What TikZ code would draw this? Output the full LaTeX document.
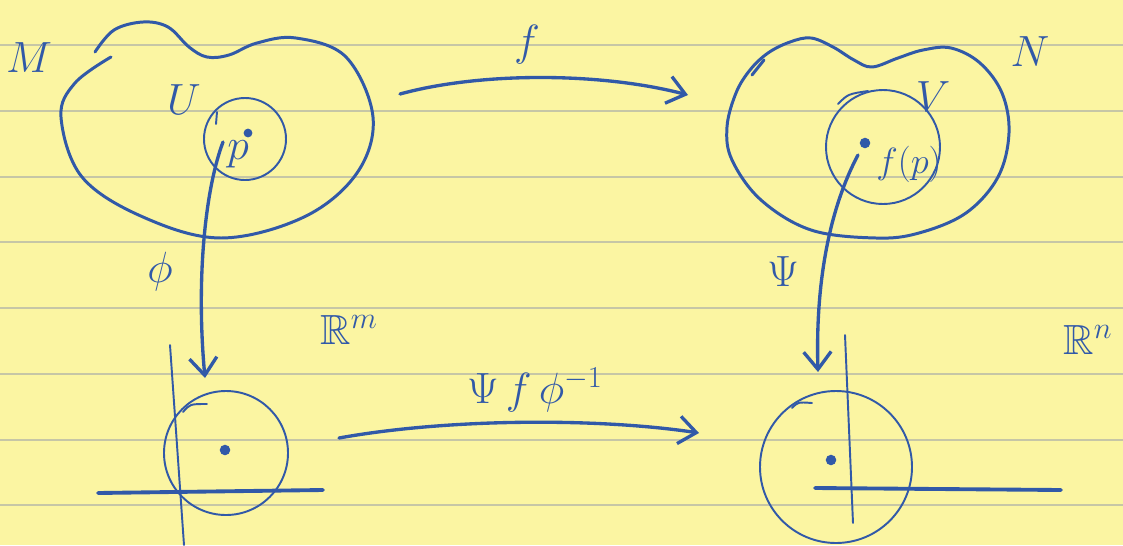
\documentclass[tikz,border=0pt]{standalone}
\usepackage{amssymb}
\usetikzlibrary{arrows.meta}
\definecolor{inkblue}{HTML}{3159A8}
\definecolor{padyellow}{HTML}{FBF5A2}
\definecolor{padrule}{HTML}{C6C6A6}
\tikzstyle{ink}=[draw=inkblue,line width=1.7pt,line cap=round,line join=round]
\tikzstyle{thinink}=[ink,line width=1.1pt]
\tikzstyle{axisink}=[ink,line width=2.2pt]
\tikzstyle{maparrow}=[ink,line width=1.9pt,-{Straight Barb[length=3.5mm,width=5.5mm]}]
\tikzstyle{lbl}=[text=inkblue,font=\fontsize{24}{28}\selectfont,inner sep=0pt]
\tikzstyle{inkdot}=[circle,fill=inkblue,inner sep=0pt,minimum size=6pt]

\begin{document}
\begin{tikzpicture}[x=0.02cm,y=-0.02cm]
    \useasboundingbox (0,0) rectangle (1123,545);
    \fill[padyellow] (0,0) rectangle (1123,545);
    \foreach \ry in {45,111,177,242,308,374,440,505}
      \draw[padrule,line width=0.6pt] (0,\ry) -- (1123,\ry);

    \draw[ink] plot[smooth,tension=0.6] coordinates {(95,52) (114,30) (143,22) (168,27) (189,47) (207,57) (229,55) (257,43) (296,38) (346,57) (373,117) (357,173) (304,217) (221,238) (143,217) (82,177) (61,117) (75,83) (111,57)};
    \draw[thinink] (245,139) circle[radius=41];
    \draw[thinink] (216,124) -- (217,112);

    \draw[ink] plot[smooth cycle,tension=0.6] coordinates {(768,53) (790,42) (811,38) (833,47) (854,60) (872,67) (898,58) (923,50) (951,48) (980,63) (1002,93) (1009,133) (998,177) (966,213) (919,233) (876,238) (811,230) (761,200) (732,160) (727,127) (736,93) (750,70)};
    \draw[ink] (752,75) -- (764,60);
    \draw[thinink] (883,147) circle[radius=57];
    \draw[thinink] (838,104) .. controls (848,94) .. (868,91);

    \draw[thinink] (226,453) circle[radius=62];
    \draw[thinink] (183,412) .. controls (190,404) .. (207,404);
    \draw[thinink] (170,345) -- (184,545);
    \draw[axisink] (98,493) -- (323,490);

    \draw[thinink] (836,467) circle[radius=76];
    \draw[thinink] (792,408) .. controls (798,402) .. (812,403);
    \draw[thinink] (845,335) -- (853,523);
    \draw[axisink] (815,488) -- (1061,490);

    \node[lbl] (mlabel) at (29,58) {$M$};
    \node[lbl] (ulabel) at (184,100) {$U$};
    \node[inkdot,minimum size=5pt] (pdot) at (248,133) {};
    \node[lbl] (plabel) at (238,154) {$p$};
    \node[lbl,font=\fontsize{30}{34}\selectfont] (flabel) at (527,45) {$f$};
    \node[lbl] (nlabel) at (1030,52) {$N$};
    \node[lbl] (vlabel) at (933,97) {$V$};
    \node[inkdot] (fpdot) at (865,143) {};
    \node[lbl,font=\fontsize{22}{26}\selectfont] (fplabel) at (909,164) {$f(p)$};
    \node[lbl,font=\fontsize{28}{32}\selectfont] (philabel) at (160,272) {$\phi$};
    \node[lbl] (psilabel) at (783,272) {$\Psi$};
    \node[lbl] (rmlabel) at (349,330) {$\mathbb{R}^m$};
    \node[lbl] (rnlabel) at (1088,340) {$\mathbb{R}^n$};
    \node[lbl] (mixlabel) at (535,390) {$\Psi\,f\,\phi^{-1}$};
    \node[inkdot] (ldot) at (225,450) {};
    \node[inkdot] (rdot) at (831,460) {};

    \coordinate (fstart) at (400,94);
    \coordinate (fend) at (688,95);
    \coordinate (phistart) at (223,142);
    \coordinate (phiend) at (205,378);
    \coordinate (psistart) at (858,155);
    \coordinate (psiend) at (818,372);
    \coordinate (lowstart) at (339,438);
    \coordinate (lowend) at (699,433);

    \draw[maparrow] (fstart) .. controls (480,72) and (600,72) .. (fend);
    \draw[maparrow] (phistart) .. controls (205,190) and (196,280) .. (phiend);
    \draw[maparrow] (psistart) .. controls (834,200) and (815,270) .. (psiend);
    \draw[maparrow] (lowstart) .. controls (450,418) and (600,418) .. (lowend);
  \end{tikzpicture}
\end{document}
